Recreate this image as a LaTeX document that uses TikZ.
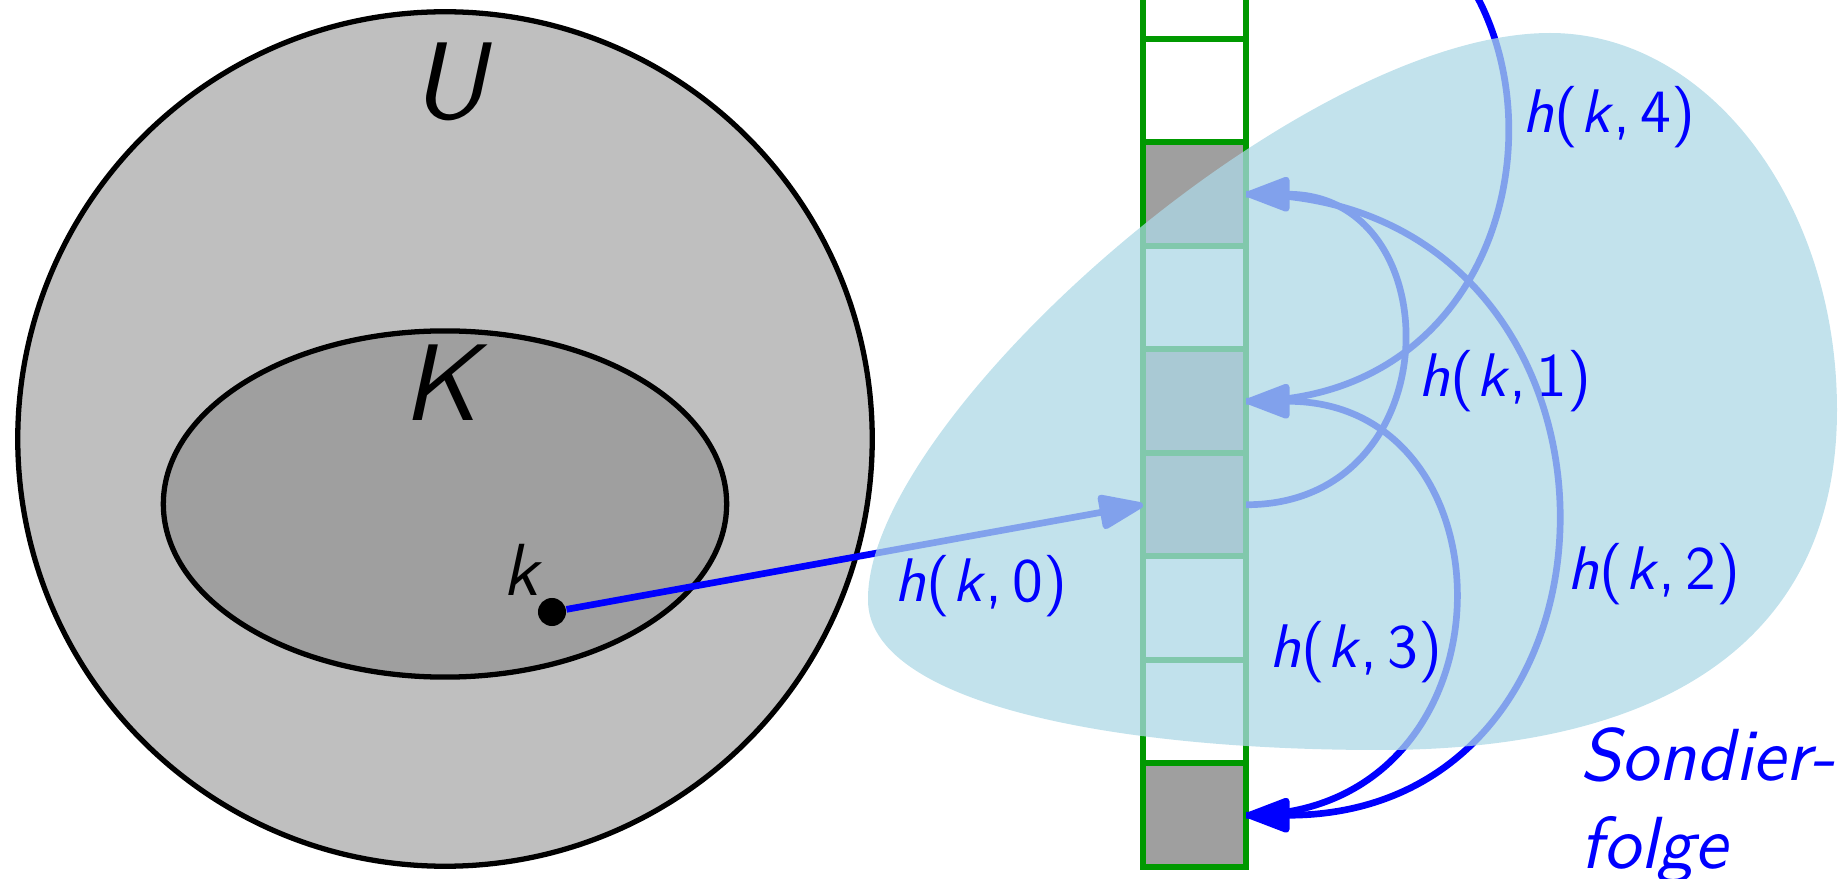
\documentclass[tikz,border=0pt]{standalone}
\usepackage{fontspec}
\setsansfont{lmsans10-regular.otf}[ItalicFont=lmsans10-oblique.otf]
\usetikzlibrary{arrows.meta}
\definecolor{myblue}{RGB}{0,0,255}
\definecolor{mygreen}{RGB}{0,153,0}
\definecolor{blobblue}{RGB}{173,216,230}
\newcommand{\hkl}[1]{\textit{h\/}(\kern0.03em\textit{k\/},\,#1)}
\begin{document}
\begin{tikzpicture}[x=0.01cm,y=0.01cm,
  cell/.style={draw=mygreen, line width=1.7pt, minimum width=1.03cm, minimum height=1.035cm, inner sep=0pt, outer sep=0pt},
  probe/.style={draw=myblue, line width=1.9pt, -{Triangle[length=0.5cm,width=0.36cm,round]}},
  lbl/.style={text=myblue, font=\sffamily\fontsize{17.5}{21}\selectfont, inner sep=0pt, anchor=base},
  big/.style={font=\sffamily\itshape\fontsize{31}{36}\selectfont, anchor=base, inner sep=0pt},
  ]
\useasboundingbox (0,0) rectangle (1847,-879);
\filldraw[fill=gray!50, draw=black, line width=1.5pt] (445,-439) circle[radius=4.27cm];
\filldraw[fill=gray!75, draw=black, line width=1.5pt] (445,-504) ellipse[x radius=2.815cm, y radius=1.73cm];
\node[big] (U) at (449,-119) {U};
\node[big] (K) at (440,-421) {K};
\node[font=\sffamily\itshape\fontsize{21}{25}\selectfont, anchor=base, inner sep=0pt] (klbl) at (521,-596) {k};
\node[circle, fill=black, minimum size=0.28cm, inner sep=0pt] (dot) at (552,-612) {};
\foreach \n/\f in {0/white,1/white,2/white,3/gray!75,4/white,5/gray!75,6/gray!75,7/white,8/white,9/gray!75}
  \node[cell, fill=\f] (c\n) at (1194.5,{116.25-103.5*\n}) {};
\draw[probe] (dot) -- (c6.west);
\draw[probe] (c6.east) to[out=0,in=0,looseness=1.7] (c3.east);
\draw[probe] (c3.east) to[out=0,in=0,looseness=1.7] (c9.east);
\draw[probe] (c9.east) to[out=0,in=0,looseness=1.7] (c5.east);
\draw[probe] (c5.east) to[out=0,in=0,looseness=1.7] (c0.east);
\fill[blobblue, opacity=0.75] (868,-600) .. controls (866,-420) and (1300,-33) .. (1550,-33)
  .. controls (1708,-33) and (1837,-202) .. (1837,-410)
  .. controls (1837,-631) and (1677,-750) .. (1380,-750)
  .. controls (1100,-750) and (868,-700) .. cycle;
\node[lbl] (h0) at (981,-602) {\hkl{0}};
\node[lbl] (h1) at (1505,-397) {\hkl{1}};
\node[lbl] (h2) at (1654,-590) {\hkl{2}};
\node[lbl] (h3) at (1356,-667) {\hkl{3}};
\node[lbl] (h4) at (1609,-133) {\hkl{4}};
\node[text=myblue, font=\sffamily\itshape\fontsize{21}{25}\selectfont, align=left, anchor=base west, inner sep=0pt] (sf) at (1580,-868) {Sondier-\\folge};
\end{tikzpicture}
\end{document}
